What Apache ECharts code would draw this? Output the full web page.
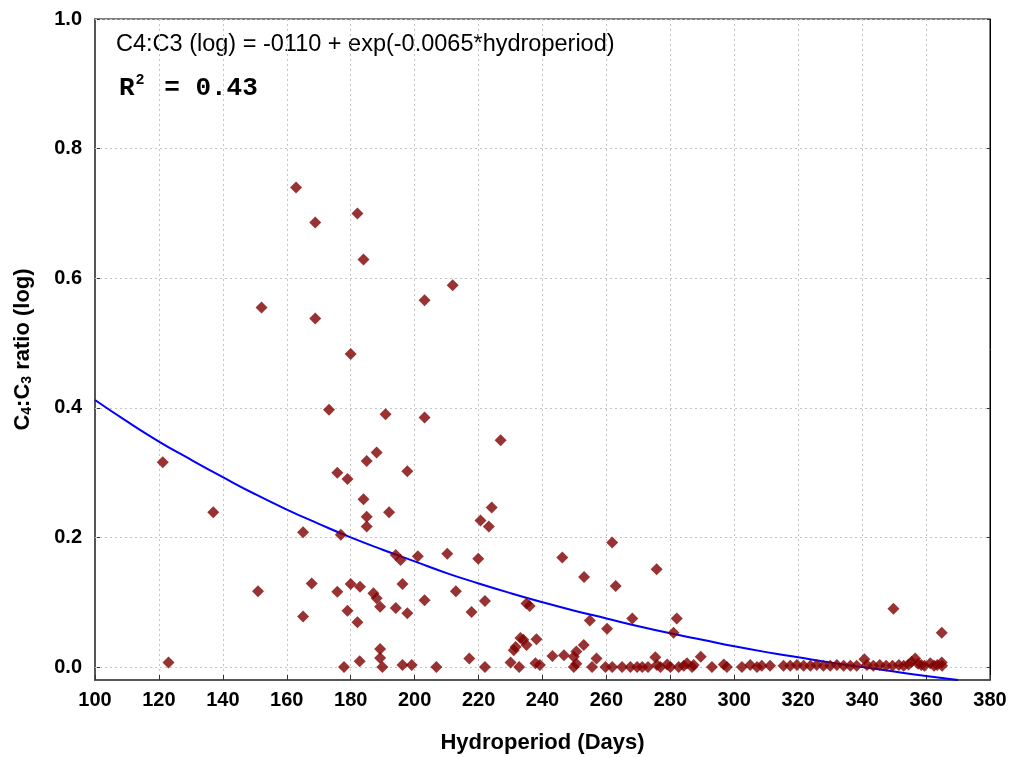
<!DOCTYPE html>
<html>
<head>
<meta charset="utf-8">
<script src="https://cdn.jsdelivr.net/npm/echarts@6/dist/echarts.min.js"></script>
<style>
html,body{margin:0;padding:0;background:#fff;}
#chart{width:1011px;height:757px;}
</style>
</head>
<body>
<div id="chart"></div>
<script>
// Scatter observations: hydroperiod (days) and C4:C3 ratio (log)
const hydroperiod = [
  121.2,123.0,137.0,151.0,152.1,162.9,165.1,165.1,167.8,168.9,168.9,
  173.2,175.8,175.8,176.9,177.9,179.0,179.0,180.0,180.0,182.1,182.1,182.9,182.8,
  184.0,184.0,185.0,185.0,185.0,187.1,188.1,188.1,189.2,189.2,189.2,189.9,
  190.9,192.0,194.1,194.1,195.6,196.2,196.2,197.7,197.7,199.1,201.0,203.1,203.1,203.1,
  206.8,210.2,211.9,212.9,217.1,217.8,219.9,220.6,222.0,222.0,223.2,224.1,226.9,
  230.0,231.0,231.6,232.7,233.1,234.0,235.0,235.0,236.0,237.8,238.1,239.2,243.1,246.2,246.7,
  249.8,249.8,250.6,250.6,252.9,253.0,254.8,255.5,256.9,259.7,260.2,261.8,261.8,262.9,
  264.9,267.5,268.1,269.6,271.2,273.0,275.3,275.7,275.8,276.9,279.0,280.0,281.0,282.0,
  282.6,284.2,285.2,286.8,287.3,289.5,293.0,296.7,297.7,302.4,305.0,307.1,308.6,311.2,
  315.4,317.5,319.6,321.7,323.8,325.8,327.9,330.0,332.1,334.2,336.3,338.3,340.7,341.5,
  343.5,345.5,347.5,349.5,349.8,351.5,353.0,354.5,355.5,356.6,357.5,358.5,359.5,361.3,
  362.5,363.5,364.9,364.9,365.0
];
const ratio = [
  0.316,0.007,0.239,0.117,0.555,0.740,0.208,0.078,0.129,0.686,0.538,
  0.397,0.300,0.116,0.204,0.000,0.290,0.087,0.483,0.128,0.700,0.069,0.124,0.009,
  0.629,0.259,0.318,0.232,0.217,0.114,0.331,0.106,0.093,0.028,0.014,0.000,
  0.390,0.239,0.173,0.091,0.165,0.128,0.003,0.302,0.083,0.003,0.171,0.103,0.566,0.385,
  0.000,0.175,0.589,0.117,0.013,0.085,0.167,0.226,0.102,0.000,0.217,0.246,0.350,
  0.007,0.026,0.031,0.000,0.045,0.042,0.034,0.098,0.094,0.006,0.043,0.003,0.017,0.169,0.018,
  0.000,0.016,0.024,0.005,0.034,0.139,0.072,0.000,0.013,0.000,0.059,0.192,0.000,0.125,
  0.000,0.000,0.075,0.000,0.000,0.000,0.015,0.151,0.003,0.000,0.004,0.000,0.053,0.075,
  0.000,0.002,0.006,0.000,0.003,0.016,0.000,0.004,0.000,0.000,0.003,0.000,0.002,0.002,
  0.002,0.002,0.003,0.002,0.002,0.003,0.002,0.002,0.003,0.002,0.002,0.002,0.012,0.003,
  0.002,0.003,0.002,0.002,0.090,0.003,0.002,0.004,0.008,0.013,0.005,0.003,0.002,0.006,
  0.002,0.003,0.007,0.053,0.002
];
// Fitted curve
const fitX = [100,110,120,130,140,150,160,170,180,190,200,210,220,230,240,250,260,270,280,290,300,310,320,330,340,350,360,370];
const fitY = [0.412,0.379,0.348,0.320,0.293,0.267,0.243,0.221,0.200,0.181,0.163,0.145,0.129,0.114,0.100,0.087,0.075,0.063,0.052,0.042,0.032,0.023,0.015,0.007,0.000,-0.007,-0.014,-0.020];
// Axis ticks
const yTicks = [0.0,0.2,0.4,0.6,0.8,1.0];
const xMin = 100, xMax = 380, xStep = 20;
const yMin = -0.02, yMax = 1.0;

const FONT = '"Liberation Sans", Arial, sans-serif';
const MONO = '"Liberation Mono", "Courier New", monospace';
const gridColor = '#c4c4c4';

const scatterData = hydroperiod.map((x, i) => [x, ratio[i]]);
const fitData = fitX.map((x, i) => [x, fitY[i]]);

const chart = echarts.init(document.getElementById('chart'), null, {renderer: 'canvas'});
chart.setOption({
  animation: false,
  backgroundColor: '#fff',
  grid: {left: 95, right: 21, top: 19, bottom: 77, show: true, borderColor: '#000', borderWidth: 1,
         outerBoundsMode: 'none', containLabel: false},
  xAxis: [{
    type: 'value', min: xMin, max: xMax, interval: xStep,
    name: 'Hydroperiod (Days)', nameLocation: 'middle', nameGap: 52,
    nameTextStyle: {fontFamily: FONT, fontWeight: 'bold', fontSize: 22, color: '#000'},
    axisLine: {show: true, onZero: false, lineStyle: {color: '#555', width: 2}},
    axisTick: {show: true, inside: true, length: 5, lineStyle: {color: '#333'}},
    axisLabel: {fontFamily: FONT, fontWeight: 'bold', fontSize: 20, color: '#000', margin: 10},
    splitLine: {show: true, lineStyle: {color: gridColor, type: [2, 3], width: 1}}
  }],
  yAxis: [{
    type: 'value', min: yMin, max: yMax,
    name: '{b|C}{s|4}{b|:C}{s|3}{b| ratio (log)}', nameLocation: 'middle', nameGap: 61, nameRotate: 90,
    nameTextStyle: {
      rich: {
        b: {fontFamily: FONT, fontWeight: 'bold', fontSize: 22, color: '#000'},
        s: {fontFamily: FONT, fontWeight: 'bold', fontSize: 14, color: '#000', verticalAlign: 'bottom', padding: [9, 0, 0, 0]}
      }
    },
    axisLine: {show: true, onZero: false, lineStyle: {color: '#555', width: 2}},
    axisTick: {show: true, inside: true, length: 5, customValues: yTicks, lineStyle: {color: '#333'}},
    axisLabel: {customValues: yTicks, formatter: v => Number(v).toFixed(1), fontFamily: FONT, fontWeight: 'bold', fontSize: 20, color: '#000', margin: 13},
    splitLine: {show: false}
  }, {
    type: 'value', min: yMin, max: yMax, position: 'right',
    axisLine: {show: true, onZero: false, lineStyle: {color: '#000', width: 1}},
    axisTick: {show: true, inside: true, length: 5, customValues: yTicks, lineStyle: {color: '#333'}},
    axisLabel: {show: false},
    splitLine: {show: false}
  }],
  graphic: [{
    type: 'text', x: 116, y: 45,
    style: {text: 'C4:C3 (log) = -0110 + exp(-0.0065*hydroperiod)', font: '23.5px "Liberation Sans", Arial, sans-serif', fill: '#000', verticalAlign: 'middle'}
  }, {
    type: 'text', x: 119, y: 88,
    style: {
      text: '{a|R}{s|2}{a| = 0.43}', verticalAlign: 'middle',
      rich: {
        a: {fontFamily: MONO, fontWeight: 'bold', fontSize: 26, color: '#000', lineHeight: 30},
        s: {fontFamily: MONO, fontWeight: 'bold', fontSize: 15, color: '#000', verticalAlign: 'top', padding: [0, 4, 0, 1]}
      }
    }
  }],
  series: [{
    type: 'line', name: 'fit', data: fitData, smooth: true, showSymbol: false, symbol: 'none',
    lineStyle: {color: '#0000ff', width: 2}, z: 2,
    markLine: {
      silent: true, z: 1, symbol: ['none', 'none'], label: {show: false},
      lineStyle: {color: gridColor, type: [2, 3], width: 1},
      emphasis: {disabled: true},
      data: yTicks.map(v => ({yAxis: v}))
    }
  }, {
    type: 'scatter', name: 'obs', data: scatterData, symbol: 'diamond', symbolSize: 12,
    itemStyle: {color: '#7f0000'}, z: 3
  }]
});
</script>
</body>
</html>
